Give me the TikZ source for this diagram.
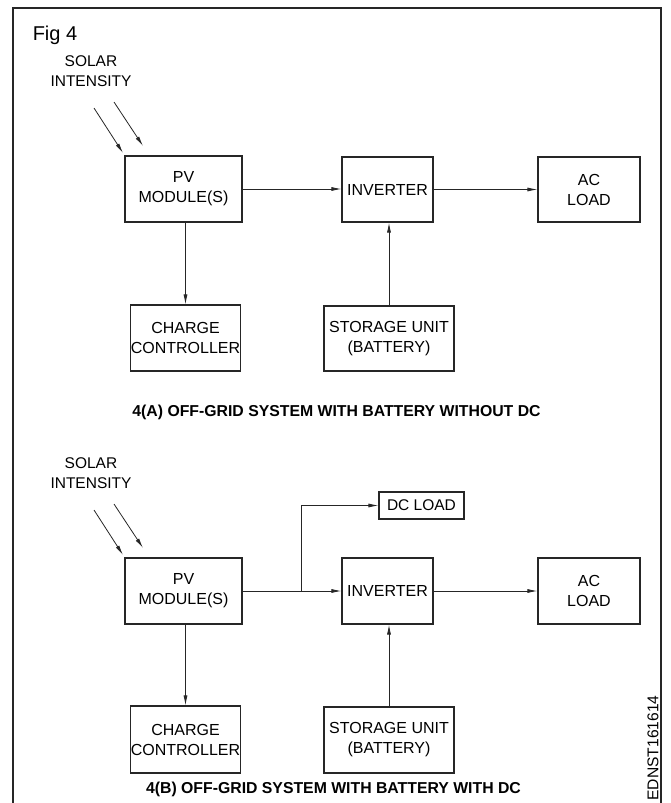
\documentclass[tikz,border=0pt]{standalone}
\usepackage{fontspec}
\setmainfont{Liberation Sans}
\usetikzlibrary{arrows.meta,calc}
\tikzset{
  box/.style={draw=black!85, line width=1.1pt, inner sep=0pt, align=center,
              font=\fontsize{16}{20}\selectfont},
  conn/.style={draw=black!85, line width=0.8pt, -{Latex[length=10pt,width=4pt]}},
  lbl/.style={inner sep=0pt, align=center, font=\fontsize{15.5}{20.5}\selectfont},
  captext/.style={inner sep=0pt, font=\bfseries\fontsize{15.8}{19}\selectfont},
  frameline/.style={draw=black!85, line width=1.4pt}
}
\begin{document}
\begin{tikzpicture}[x=1pt,y=-1pt]
\useasboundingbox (0,0) rectangle (671,803);
\draw[frameline] (13,803) -- (13,8) -- (661,8) -- (661,803);

\node[inner sep=0pt, font=\fontsize{20}{24}\selectfont] (fig) at (55,35) {Fig 4};

% ---------- Part A ----------
\node[lbl] (solA) at (91,71) {SOLAR\\INTENSITY};
\node[box, minimum width=117pt, minimum height=66pt] (pvA) at (183.5,189) {PV\\MODULE(S)};
\node[box, minimum width=91pt, minimum height=65pt] (invA) at (387.5,189.5) {INVERTER};
\node[box, minimum width=102pt, minimum height=65pt] (acA) at (589,189.5) {AC\\LOAD};
\node[box, minimum width=109pt, minimum height=66pt] (ccA) at (185.5,338) {CHARGE\\CONTROLLER};
\node[box, minimum width=130pt, minimum height=65pt] (stA) at (389,338.5) {STORAGE UNIT\\(BATTERY)};
\coordinate (r1sA) at (94,108);
\coordinate (r1eA) at (123,153);
\coordinate (r2sA) at (114,102);
\coordinate (r2eA) at (143,146);
\draw[conn] (r1sA) -- (r1eA);
\draw[conn] (r2sA) -- (r2eA);
\draw[conn] (pvA.east) -- (pvA.east -| invA.west);
\draw[conn] (invA.east) -- (invA.east -| acA.west);
\draw[conn] (ccA.north |- pvA.south) -- (ccA.north);
\draw[conn] (stA.north) -- (stA.north |- invA.south);
\node[captext] (capA) at (336.5,412) {4(A) OFF-GRID SYSTEM WITH BATTERY WITHOUT DC};

% ---------- Part B ----------
\node[lbl] (solB) at (91,473) {SOLAR\\INTENSITY};
\node[box, minimum width=117pt, minimum height=66pt] (pvB) at (183.5,591) {PV\\MODULE(S)};
\node[box, minimum width=91pt, minimum height=66pt] (invB) at (387.5,591) {INVERTER};
\node[box, minimum width=102pt, minimum height=66pt] (acB) at (589,591) {AC\\LOAD};
\node[box, minimum width=109pt, minimum height=67pt] (ccB) at (185.5,739.5) {CHARGE\\CONTROLLER};
\node[box, minimum width=130pt, minimum height=66pt] (stB) at (389,740) {STORAGE UNIT\\(BATTERY)};
\node[box, minimum width=85pt, minimum height=27pt, font=\fontsize{15.5}{19}\selectfont] (dcB) at (421.5,505.5) {DC LOAD};
\coordinate (r1sB) at (94,510);
\coordinate (r1eB) at (123,555);
\coordinate (r2sB) at (114,504);
\coordinate (r2eB) at (143,548);
\draw[conn] (r1sB) -- (r1eB);
\draw[conn] (r2sB) -- (r2eB);
\draw[conn] (pvB.east) -- (pvB.east -| invB.west);
\coordinate (jB) at (301,591);
\draw[conn] (jB) |- (dcB.west);
\draw[conn] (invB.east) -- (invB.east -| acB.west);
\draw[conn] (ccB.north |- pvB.south) -- (ccB.north);
\draw[conn] (stB.north) -- (stB.north |- invB.south);
\node[captext] (capB) at (333.5,789) {4(B) OFF-GRID SYSTEM WITH BATTERY WITH DC};

\node[inner sep=0pt, rotate=90, font=\fontsize{15.6}{18}\selectfont] (code) at (653,748) {EDNST161614};
\end{tikzpicture}
\end{document}
